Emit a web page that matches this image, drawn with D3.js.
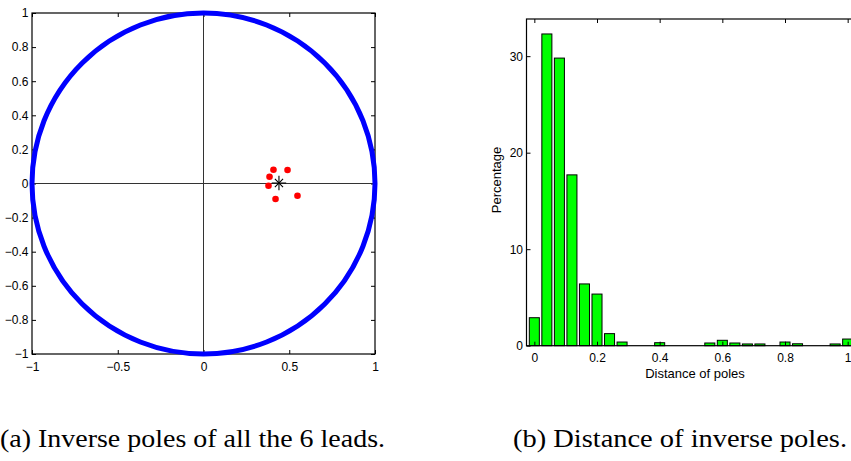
<!DOCTYPE html>
<html>
<head>
<meta charset="utf-8">
<script src="https://cdn.jsdelivr.net/npm/d3@7"></script>
<style>
  html, body { margin: 0; padding: 0; background: #fff; }
  svg { display: block; }
  .tick text { font-family: "Liberation Sans", Arial, sans-serif; font-size: 12px; fill: #000; }
  .tick line { stroke: #000; }
  .lab { font-family: "Liberation Sans", Arial, sans-serif; font-size: 13px; fill: #000; }
  .cap { font-family: "Liberation Serif", "DejaVu Serif", serif; font-size: 25px; fill: #000; }
</style>
</head>
<body>
<svg id="fig" width="851" height="461"></svg>
<script>
// ---- (a) inverse poles of the six leads ----
const poleX = [0.408, 0.490, 0.385, 0.379, 0.420, 0.548];
const poleY = [0.081, 0.079, 0.040, -0.013, -0.091, -0.072];
const meanPole = [0.44, 0.003];
const unitRadius = 1;

const circleXTicks = [-1, -0.5, 0, 0.5, 1];
const circleXLabels = ["\u22121", "\u22120.5", "0", "0.5", "1"];
const circleYTicks = [-1, -0.8, -0.6, -0.4, -0.2, 0, 0.2, 0.4, 0.6, 0.8, 1];
const circleYLabels = ["\u22121", "\u22120.8", "\u22120.6", "\u22120.4", "\u22120.2", "0", "0.2", "0.4", "0.6", "0.8", "1"];

// ---- (b) histogram of pole distances ----
const binCenters = [0, 0.04, 0.08, 0.12, 0.16, 0.20, 0.24, 0.28, 0.32, 0.36, 0.40, 0.44, 0.48,
                    0.52, 0.56, 0.60, 0.64, 0.68, 0.72, 0.76, 0.80, 0.84, 0.88, 0.92, 0.96, 1.00];
const percentages = [2.9, 32.3, 29.8, 17.7, 6.4, 5.35, 1.25, 0.38, 0, 0, 0.31, 0, 0,
                     0, 0.28, 0.56, 0.28, 0.18, 0.18, 0, 0.38, 0.2, 0, 0, 0.18, 0.69];
const binWidth = 0.04;

const histXTicks = [0, 0.2, 0.4, 0.6, 0.8, 1];
const histXLabels = ["0", "0.2", "0.4", "0.6", "0.8", "1"];
const histYTicks = [0, 10, 20, 30];
const histYLabels = ["0", "10", "20", "30"];

const captionA = "(a) Inverse poles of all the 6 leads.";
const captionB = "(b) Distance of inverse poles.";

const svg = d3.select("#fig");
svg.append("rect").attr("width", 851).attr("height", 461).attr("fill", "#fff");

const TICK = 4;

function boxAxes(g, x, y, xt, xl, yt, yl) {
  const [x0, x1] = x.range();
  const [y0, y1] = y.range();
  g.append("rect")
    .attr("x", x0).attr("y", y1).attr("width", x1 - x0).attr("height", y0 - y1)
    .attr("fill", "none").attr("stroke", "#000").attr("stroke-width", 1.2);
  const bottom = g.append("g").attr("transform", `translate(0,${y0})`)
    .call(d3.axisBottom(x).tickValues(xt).tickFormat((d, i) => xl[i])
      .tickSizeInner(-TICK).tickSizeOuter(0).tickPadding(8));
  const top = g.append("g").attr("transform", `translate(0,${y1})`)
    .call(d3.axisTop(x).tickValues(xt).tickFormat("")
      .tickSizeInner(-TICK).tickSizeOuter(0));
  const left = g.append("g").attr("transform", `translate(${x0},0)`)
    .call(d3.axisLeft(y).tickValues(yt).tickFormat((d, i) => yl[i])
      .tickSizeInner(-TICK).tickSizeOuter(0).tickPadding(3.5));
  const right = g.append("g").attr("transform", `translate(${x1},0)`)
    .call(d3.axisRight(y).tickValues(yt).tickFormat("")
      .tickSizeInner(-TICK).tickSizeOuter(0));
  [bottom, top, left, right].forEach(a => {
    a.select(".domain").remove();
    a.attr("font-family", null).attr("font-size", null);
  });
}

// ---------- panel (a) ----------
const xL = d3.scaleLinear().domain([-1, 1]).range([32, 375]);
const yL = d3.scaleLinear().domain([-1, 1]).range([354, 13]);
const gA = svg.append("g");
boxAxes(gA, xL, yL, circleXTicks, circleXLabels, circleYTicks, circleYLabels);

// zero lines
gA.append("line")
  .attr("x1", xL(0)).attr("x2", xL(0)).attr("y1", yL(-1)).attr("y2", yL(1))
  .attr("stroke", "#333").attr("stroke-width", 1);
gA.append("line")
  .attr("x1", xL(-1)).attr("x2", xL(1)).attr("y1", yL(0)).attr("y2", yL(0))
  .attr("stroke", "#333").attr("stroke-width", 1);

// unit circle
gA.append("ellipse")
  .attr("cx", xL(0)).attr("cy", yL(0))
  .attr("rx", xL(unitRadius) - xL(0)).attr("ry", yL(0) - yL(unitRadius))
  .attr("fill", "none").attr("stroke", "#0000ff").attr("stroke-width", 5);

// poles
gA.selectAll("circle.pole").data(poleX.map((v, i) => [v, poleY[i]]))
  .join("circle").attr("class", "pole")
  .attr("cx", d => xL(d[0])).attr("cy", d => yL(d[1]))
  .attr("r", 3.3).attr("fill", "#ff0000");

// mean pole marker (asterisk)
const star = gA.append("g").attr("transform", `translate(${xL(meanPole[0])},${yL(meanPole[1])})`);
star.append("path").attr("d", d3.symbol(d3.symbolPlus, 70)())
  .attr("fill", "none").attr("stroke", "#000").attr("stroke-width", 1.1);
star.append("path").attr("d", d3.symbol(d3.symbolTimes, 45)())
  .attr("fill", "none").attr("stroke", "#000").attr("stroke-width", 1.1);

// ---------- panel (b) ----------
const xR = d3.scaleLinear().domain([-0.025, 1.025]).range([526.5, 855.5]);
const yR = d3.scaleLinear().domain([0, 33.85]).range([345.7, 19]);
const gB = svg.append("g");

const barHalf = binWidth * 0.4;
gB.selectAll("rect.bar").data(binCenters.map((c, i) => [c, percentages[i]]))
  .join("rect").attr("class", "bar")
  .attr("x", d => xR(d[0] - barHalf))
  .attr("width", d => xR(d[0] + barHalf) - xR(d[0] - barHalf))
  .attr("y", d => yR(d[1]))
  .attr("height", d => yR(0) - yR(d[1]))
  .attr("fill", "#00ff00").attr("stroke", "#000").attr("stroke-width", 1);

boxAxes(gB, xR, yR, histXTicks, histXLabels, histYTicks, histYLabels);

gB.append("text").attr("class", "lab")
  .attr("transform", "translate(501,180) rotate(-90)")
  .attr("text-anchor", "middle")
  .text("Percentage");
gB.append("text").attr("class", "lab")
  .attr("x", 695).attr("y", 377.5)
  .attr("text-anchor", "middle")
  .text("Distance of poles");

// ---------- captions ----------
svg.append("text").attr("class", "cap")
  .attr("x", 0).attr("y", 447)
  .attr("textLength", 385).attr("lengthAdjust", "spacingAndGlyphs")
  .text(captionA);
svg.append("text").attr("class", "cap")
  .attr("x", 513).attr("y", 447)
  .attr("textLength", 334).attr("lengthAdjust", "spacingAndGlyphs")
  .text(captionB);
</script>
</body>
</html>
